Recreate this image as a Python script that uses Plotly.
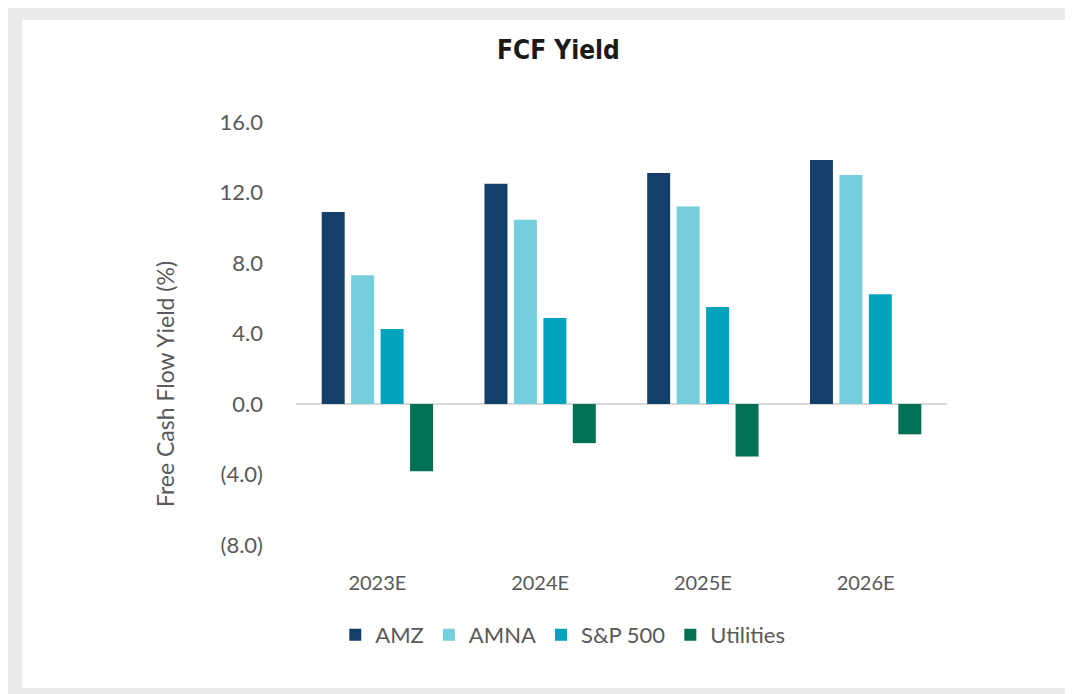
import plotly.graph_objects as go

categories = ["2023E", "2024E", "2025E", "2026E"]
series_names = ["AMZ", "AMNA", "S&P 500", "Utilities"]
amz = [10.9, 12.5, 13.1, 13.85]
amna = [7.3, 10.45, 11.2, 13.0]
sp500 = [4.25, 4.88, 5.5, 6.22]
utilities = [-3.82, -2.22, -2.98, -1.72]
series_values = [amz, amna, sp500, utilities]
colors = ["#143F6B", "#74CEDB", "#00A3BD", "#007155"]
y_tickvals = [-8, -4, 0, 4, 8, 12, 16]
y_ticktext = ["(8.0)", "(4.0)", "0.0", "4.0", "8.0", "12.0", "16.0"]

# page has an 8px body margin; figure coordinates = page coordinates - 8
OFF = 8
W, H = 1065, 686
ML, MR, MT, MB = 288, 125.5, 114, 149
PW = W - ML - MR
PH = H - MT - MB


def px_x(px):
    return (px - OFF - ML) / PW


def px_y(py):
    return (H - MB - (py - OFF)) / PH


fig = go.Figure()
for name, vals, col in zip(series_names, series_values, colors):
    fig.add_trace(go.Bar(x=categories, y=vals, name=name, marker=dict(color=col, line=dict(width=0))))

FONT = "Lato, 'Open Sans', sans-serif"
GRAY = "#595959"

shapes = [
    dict(type="rect", xref="paper", yref="paper", x0=px_x(22), x1=px_x(1090), y0=px_y(20), y1=px_y(688),
         fillcolor="#FFFFFF", line=dict(width=0), layer="below"),
]

annotations = [
    dict(text="<b>FCF Yield</b>", xref="paper", yref="paper", x=px_x(559), y=px_y(50),
         xanchor="center", yanchor="middle", showarrow=False,
         font=dict(family="'Liberation Sans Narrow', 'DejaVu Sans Condensed', 'Roboto', sans-serif", size=26, color="#1A1A1A")),
    dict(text="Free Cash Flow Yield (%)", xref="paper", yref="paper", x=px_x(165), y=px_y(384),
         xanchor="center", yanchor="middle", showarrow=False, textangle=-90,
         font=dict(family=FONT, size=23, color=GRAY)),
]

fig.update_layout(
    width=W, height=H,
    margin=dict(l=ML, r=MR, t=MT, b=MB, pad=0),
    paper_bgcolor="#EBEBED", plot_bgcolor="rgba(0,0,0,0)",
    barmode="group", bargap=0.276, bargroupgap=0.22,
    showlegend=True,
    legend=dict(orientation="h", xref="paper", yref="paper", x=px_x(563), y=px_y(635),
                xanchor="center", yanchor="middle", font=dict(family=FONT, size=22, color=GRAY),
                itemwidth=30, bgcolor="rgba(0,0,0,0)"),
    shapes=shapes, annotations=annotations,
    hovermode=False,
)
fig.update_xaxes(showgrid=False, showline=False, ticks="", ticklabelstandoff=24,
                 tickfont=dict(family=FONT, size=20, color=GRAY))
fig.update_yaxes(range=[-8, 16], tickvals=y_tickvals, ticktext=y_ticktext, showgrid=False,
                 showline=False, zeroline=True, zerolinecolor="#D9D9D9", zerolinewidth=2,
                 ticks="", ticklabelstandoff=32, tickfont=dict(family=FONT, size=22, color=GRAY))

fig.write_html("out.html")
